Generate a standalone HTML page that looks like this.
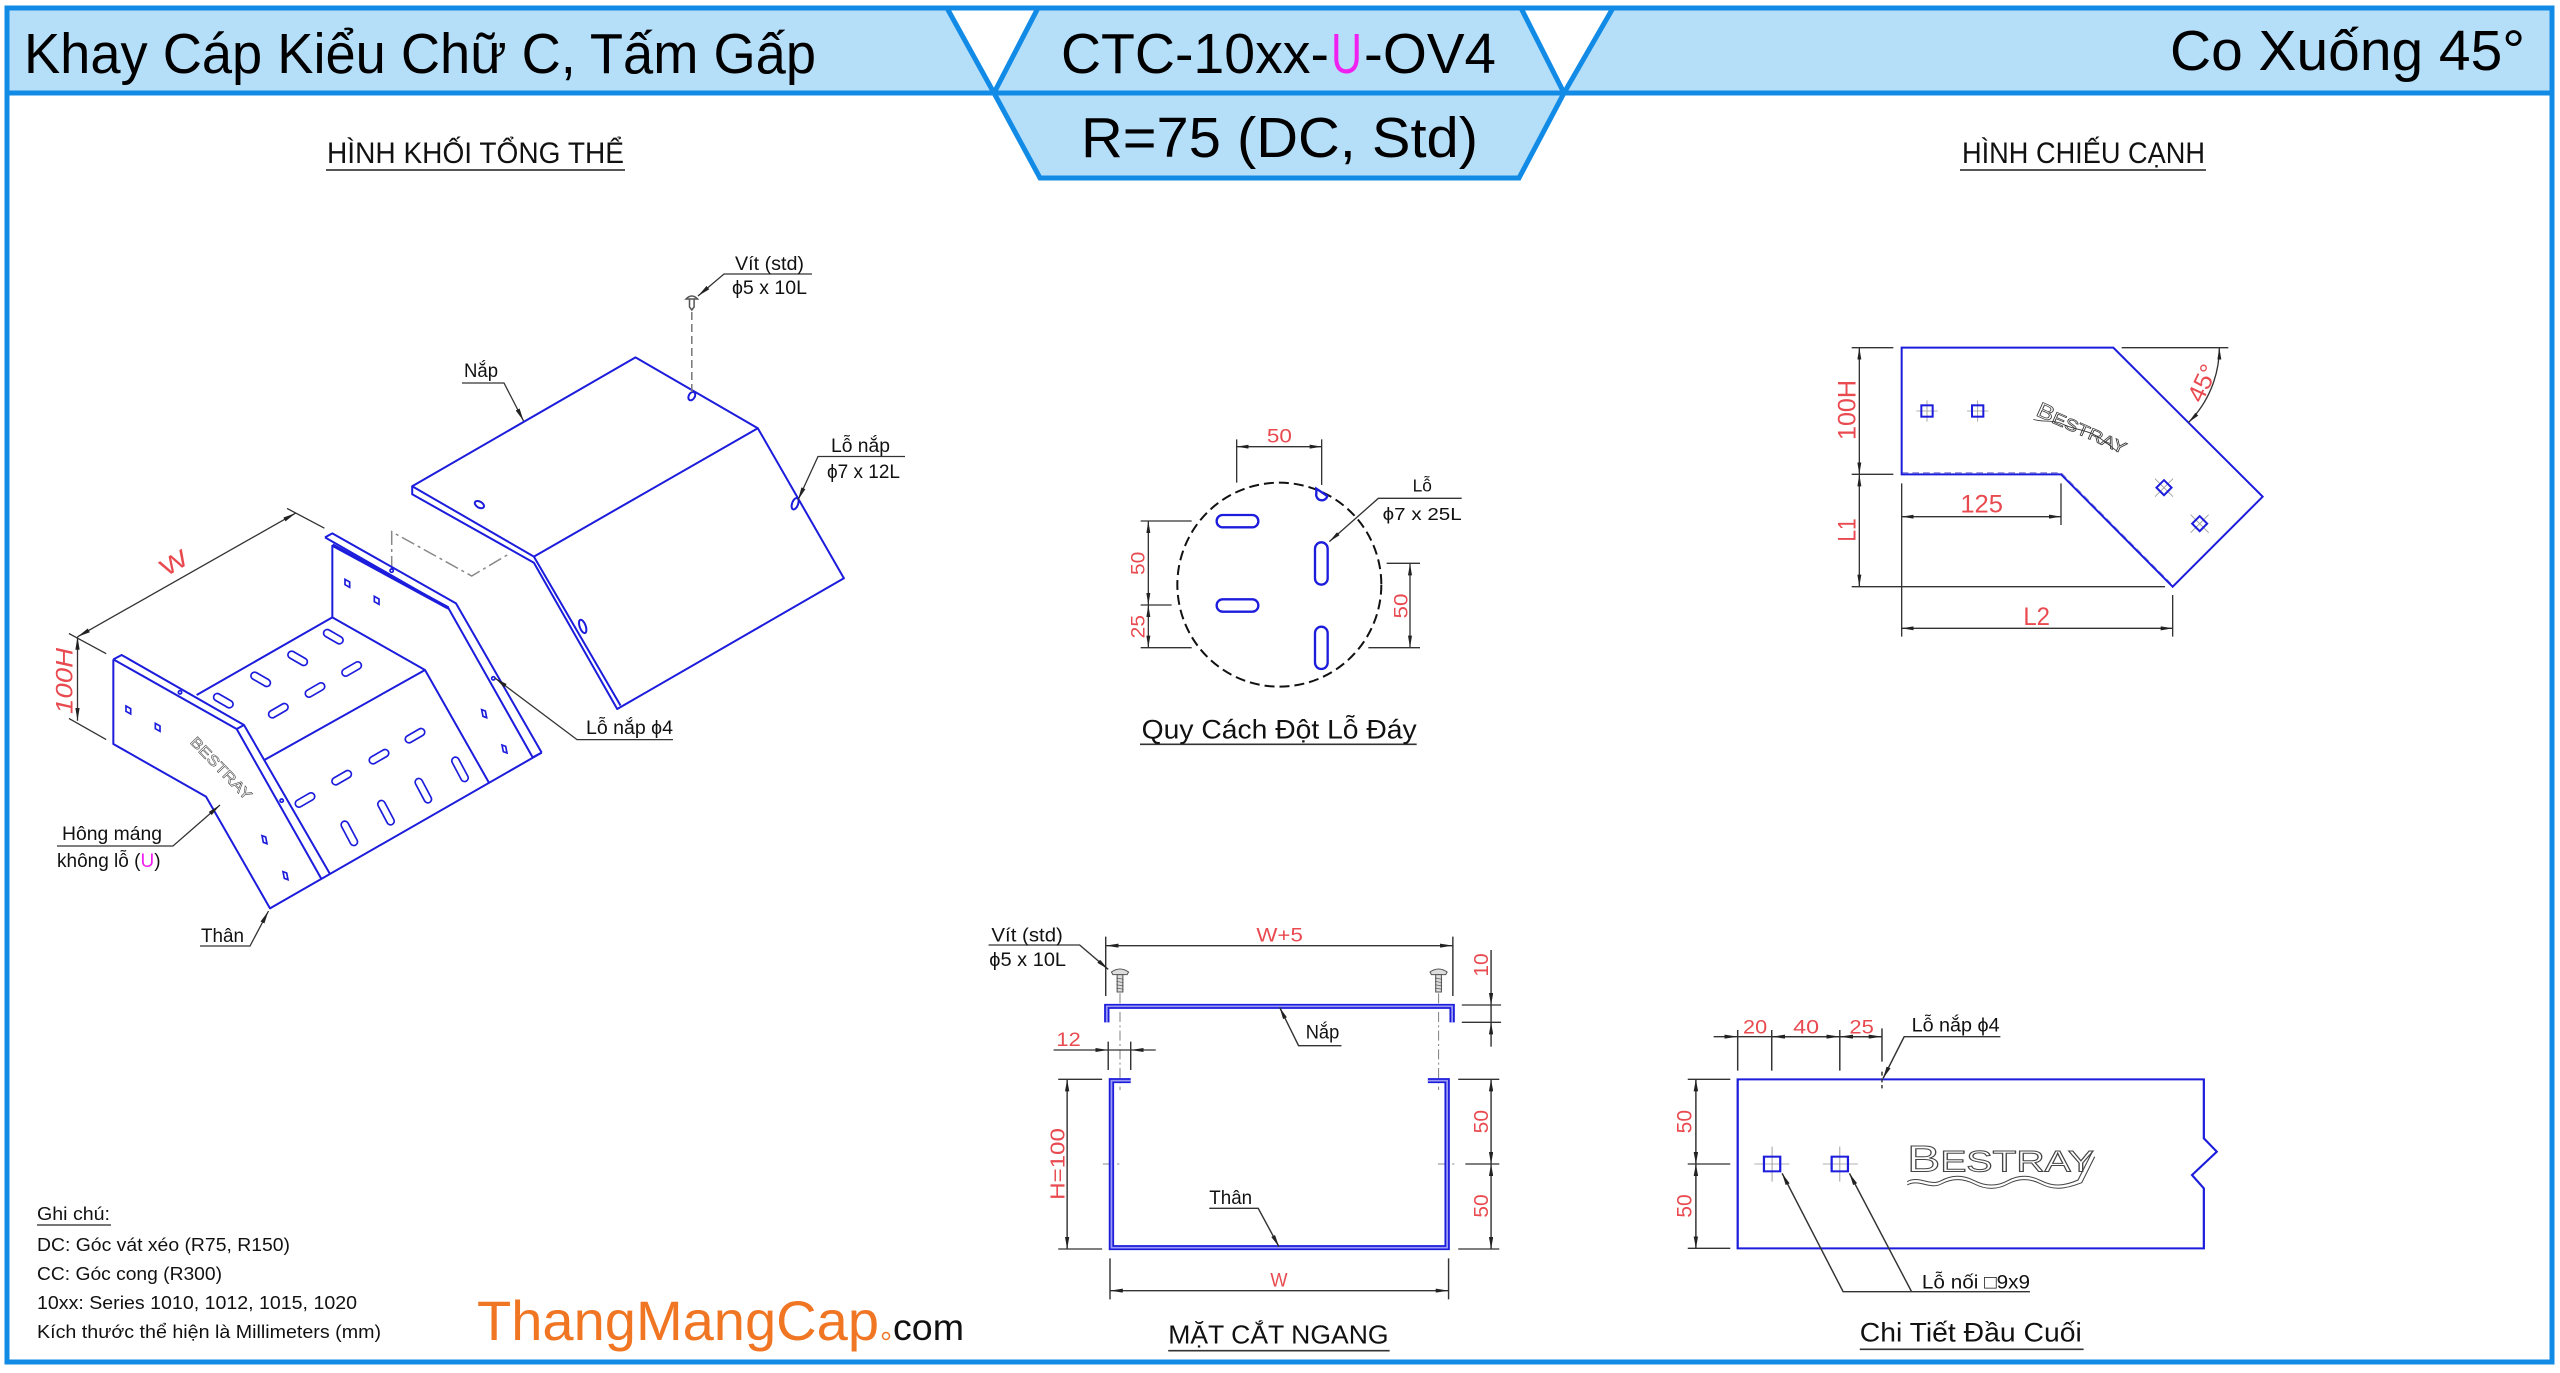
<!DOCTYPE html>
<html><head><meta charset="utf-8"><style>
html,body{margin:0;padding:0;background:#fff;}
svg{display:block;}
text{font-family:"Liberation Sans","DejaVu Sans",sans-serif;}
</style></head><body>
<svg width="2560" height="1373" viewBox="0 0 2560 1373" xmlns="http://www.w3.org/2000/svg">
<defs>
<marker id="a1" viewBox="0 0 12 4" refX="12" refY="2" markerWidth="13" markerHeight="4.4" markerUnits="userSpaceOnUse" orient="auto-start-reverse"><path d="M0,0 L12,2 L0,4 z" fill="#222"/></marker>
<marker id="a3" viewBox="0 0 12 4" refX="12" refY="2" markerWidth="36" markerHeight="12" markerUnits="userSpaceOnUse" orient="auto-start-reverse"><path d="M0,0 L12,2 L0,4 z" fill="#222"/></marker>
</defs>
<rect width="2560" height="1373" fill="#fff"/>

<!-- HEADER -->
<g stroke="#128be6" stroke-width="5" fill="#b5def9" stroke-linejoin="miter">
<polygon points="7,8 947,8 994,93 7,93"/>
<polygon points="1038,8 1521,8 1564,93 1519,178 1040,178 994,93"/>
<polygon points="1613,8 2552,8 2552,93 1564,93"/>
<line x1="994" y1="93" x2="1564" y2="93"/>
</g>
<rect x="7" y="8" width="2545" height="1354" fill="none" stroke="#128be6" stroke-width="5"/>
<g font-size="57" fill="#000">
<text x="24" y="73" textLength="792" lengthAdjust="spacingAndGlyphs">Khay Cáp Kiểu Chữ C, Tấm Gấp</text>
<text x="1061" y="73" textLength="268" lengthAdjust="spacingAndGlyphs">CTC-10xx-</text>
<text x="1331" y="73" textLength="31" lengthAdjust="spacingAndGlyphs" fill="#f020f0">U</text>
<text x="1364" y="73" textLength="132" lengthAdjust="spacingAndGlyphs">-OV4</text>
<text x="1081" y="157" textLength="397" lengthAdjust="spacingAndGlyphs">R=75 (DC, Std)</text>
<text x="2170" y="70" textLength="355" lengthAdjust="spacingAndGlyphs">Co Xuống 45°</text>
</g>

<!-- SECTION TITLES -->
<g font-size="30" fill="#111">
<text x="327" y="163" textLength="297" lengthAdjust="spacingAndGlyphs">HÌNH KHỐI TỔNG THỂ</text>
<text x="1962" y="163" textLength="243" lengthAdjust="spacingAndGlyphs">HÌNH CHIẾU CẠNH</text>
</g>
<g stroke="#555" stroke-width="2">
<line x1="326" y1="170" x2="625" y2="170"/>
<line x1="1960" y1="170" x2="2206" y2="170"/>
</g>

<!-- ISOMETRIC: LID (orig coords) -->
<g stroke="#1c1cdc" stroke-width="2" fill="none" stroke-linejoin="round">
<polygon points="412.2,486.2 635.5,357.4 757.8,428.2 533.9,556.6"/>
<path d="M412.2,486.2 L412.2,494.3 L533.9,562.7 L617.2,709 L843.9,578.3 L757.8,428.2"/>
<path d="M533.9,556.6 L620.5,705.5"/>
<ellipse cx="691.8" cy="396.1" rx="3" ry="4.5" transform="rotate(30 691.8 396.1)"/>
<ellipse cx="479.4" cy="504.6" rx="5" ry="3" transform="rotate(30 479.4 504.6)"/>
<ellipse cx="795.1" cy="503.7" rx="3" ry="6" transform="rotate(20 795.1 503.7)"/>
<ellipse cx="582.7" cy="626.4" rx="3" ry="7" transform="rotate(-20 582.7 626.4)"/>
</g>
<g stroke="#555" stroke-width="1.5" fill="none">
<path d="M686,299 Q691.8,293 697.6,299 Z"/>
<path d="M689.5,299 L689.5,307 L691.8,310 L694.1,307 L694.1,299"/>
<path d="M691.8,312 L691.8,392" stroke-dasharray="8 4" stroke="#777"/>
<path d="M391.7,570 L391.7,531.7 L471.7,576 L510,553.3" stroke="#888" stroke-dasharray="14 4 3 4"/>
</g>

<!-- ISOMETRIC: BODY (zoom9 coords) -->
<g transform="translate(100,520) scale(0.333333)">
<g stroke="#1c1cdc" stroke-width="6" fill="none" stroke-linejoin="round">
<path d="M40,418 L40,672 L318,830 L510,1165 L1325,698"/>
<path d="M40,418 L410,627 L665,1078"/>
<path d="M40,418 L65,405 L432,615 L690,1062"/>
<path d="M410,627 L432,615"/>
<path d="M290,525 L697,292 L975,450 L1168,790"/>
<path d="M493,720 L975,450"/>
<path d="M697,292 L697,75"/>
<path d="M675,52 L697,40 L1068,250 L1325,698"/>
<path d="M675,52 L1045,264 L1298,712"/>
<path d="M697,75 L1045,264" stroke-width="10"/>
<path d="M1298,712 L1325,698"/>
</g>
<g stroke="#1c1cdc" stroke-width="5" fill="none">
<g transform="translate(370,542) rotate(30)"><rect x="-32" y="-11" width="64" height="22" rx="11"/></g>
<g transform="translate(482,478) rotate(30)"><rect x="-32" y="-11" width="64" height="22" rx="11"/></g>
<g transform="translate(593,415) rotate(30)"><rect x="-32" y="-11" width="64" height="22" rx="11"/></g>
<g transform="translate(700,350) rotate(30)"><rect x="-32" y="-11" width="64" height="22" rx="11"/></g>
<g transform="translate(535,572) rotate(-30)"><rect x="-32" y="-11" width="64" height="22" rx="11"/></g>
<g transform="translate(645,510) rotate(-30)"><rect x="-32" y="-11" width="64" height="22" rx="11"/></g>
<g transform="translate(755,447) rotate(-30)"><rect x="-32" y="-11" width="64" height="22" rx="11"/></g>
<g transform="translate(615,840) rotate(-30)"><rect x="-32" y="-11" width="64" height="22" rx="11"/></g>
<g transform="translate(725,773) rotate(-30)"><rect x="-32" y="-11" width="64" height="22" rx="11"/></g>
<g transform="translate(837,710) rotate(-30)"><rect x="-32" y="-11" width="64" height="22" rx="11"/></g>
<g transform="translate(945,647) rotate(-30)"><rect x="-32" y="-11" width="64" height="22" rx="11"/></g>
<g transform="translate(748,940) rotate(62)"><rect x="-40" y="-11" width="80" height="22" rx="11"/></g>
<g transform="translate(858,878) rotate(62)"><rect x="-40" y="-11" width="80" height="22" rx="11"/></g>
<g transform="translate(970,812) rotate(62)"><rect x="-40" y="-11" width="80" height="22" rx="11"/></g>
<g transform="translate(1080,748) rotate(62)"><rect x="-40" y="-11" width="80" height="22" rx="11"/></g>
<polygon points="-7,-12 7,-4 7,12 -7,4" transform="translate(85,570)"/>
<polygon points="-7,-12 7,-4 7,12 -7,4" transform="translate(173,622)"/>
<polygon points="-7,-12 7,-4 7,12 -7,4" transform="translate(742,190)"/>
<polygon points="-7,-12 7,-4 7,12 -7,4" transform="translate(830,241)"/>
<polygon points="-7,-13 4,-9 8,11 -3,7" transform="translate(493,960)"/>
<polygon points="-7,-13 4,-9 8,11 -3,7" transform="translate(556,1068)"/>
<polygon points="-7,-13 4,-9 8,11 -3,7" transform="translate(1152,582)"/>
<polygon points="-7,-13 4,-9 8,11 -3,7" transform="translate(1213,688)"/>
<circle cx="240" cy="517" r="5"/>
<circle cx="875" cy="152" r="5"/>
<circle cx="545" cy="842" r="5"/>
<circle cx="1180" cy="475" r="5"/>
</g>
<text transform="translate(268,668) rotate(46)" font-size="44" fill="none" stroke="#444" stroke-width="1.6" textLength="244" lengthAdjust="spacingAndGlyphs">BESTRAY</text>
</g>

<!-- ISOMETRIC DIMENSIONS & LEADERS -->
<g stroke="#333" stroke-width="1.3" fill="none">
<path d="M77.5,636.8 L295.7,513.1" marker-start="url(#a1)" marker-end="url(#a1)"/>
<path d="M68.9,633.5 L106.2,653.7"/>
<path d="M287,508.4 L324.4,528.2"/>
<path d="M77.5,636.8 L77.5,720.8" marker-start="url(#a1)" marker-end="url(#a1)"/>
<path d="M68.9,718.4 L106.2,739.6"/>
<path d="M812,274 L724,274 L698,296" marker-end="url(#a1)"/>
<path d="M462,383 L504,383 L523.6,421" marker-end="url(#a1)"/>
<path d="M905,456.5 L818,456.5 L798,500" marker-end="url(#a1)"/>
<path d="M673,739.6 L577,739.6 L495,678" marker-end="url(#a1)"/>
<path d="M57,846 L173,846 L220,805" marker-end="url(#a1)"/>
<path d="M200,946 L250,946 L268.5,911" marker-end="url(#a1)"/>
</g>
<g fill="#e84a50" font-size="24">
<text transform="translate(178,570) rotate(-30)" text-anchor="middle" textLength="28" lengthAdjust="spacingAndGlyphs">W</text>
<text transform="translate(72.5,681) rotate(-90)" text-anchor="middle" font-style="italic" textLength="66" lengthAdjust="spacingAndGlyphs">100H</text>
</g>
<g fill="#111" font-size="19">
<text x="735" y="270" textLength="69" lengthAdjust="spacingAndGlyphs">Vít (std)</text>
<text x="732" y="294" textLength="75" lengthAdjust="spacingAndGlyphs">ϕ5 x 10L</text>
<text x="464" y="377" textLength="34" lengthAdjust="spacingAndGlyphs">Nắp</text>
<text x="831" y="452" textLength="59" lengthAdjust="spacingAndGlyphs">Lỗ nắp</text>
<text x="827" y="478" textLength="73" lengthAdjust="spacingAndGlyphs">ϕ7 x 12L</text>
<text x="586" y="734" textLength="87" lengthAdjust="spacingAndGlyphs">Lỗ nắp ϕ4</text>
<text x="62" y="840" textLength="100" lengthAdjust="spacingAndGlyphs">Hông máng</text>
<text x="57" y="867">không lỗ (<tspan fill="#f020f0">U</tspan>)</text>
<text x="201" y="942" textLength="43" lengthAdjust="spacingAndGlyphs">Thân</text>
</g>

<!-- HOLE PATTERN (zoom4 coords) -->
<g transform="translate(1120,410) scale(0.333333)">
<circle cx="478" cy="524" r="306" fill="none" stroke="#111" stroke-width="6" stroke-dasharray="30 15"/>
<g stroke="#1c1cdc" stroke-width="7" fill="none">
<rect x="290" y="315" width="125" height="37" rx="18"/>
<rect x="290" y="568" width="125" height="37" rx="18"/>
<rect x="585" y="397" width="38" height="127" rx="19"/>
<rect x="585" y="650" width="38" height="127" rx="19"/>
<path d="M589,236 L589,250 A16,16 0 0 0 622,258 Z"/>
</g>
<g stroke="#333" stroke-width="4" fill="none">
<path d="M350,88 L350,218 M605,88 L605,225"/>
<path d="M350,110 L605,110" marker-start="url(#a3)" marker-end="url(#a3)"/>
<path d="M62,333 L215,333 M62,585 L155,585 M62,713 L215,713"/>
<path d="M85,333 L85,585" marker-start="url(#a3)" marker-end="url(#a3)"/>
<path d="M85,585 L85,713" marker-start="url(#a3)" marker-end="url(#a3)"/>
<path d="M800,460 L900,460 M745,713 L900,713"/>
<path d="M870,460 L870,713" marker-start="url(#a3)" marker-end="url(#a3)"/>
<path d="M1025,265 L775,265 L628,395" marker-end="url(#a3)"/>
<path d="M60,1003 L890,1003" stroke-width="5"/>
</g>
<g fill="#e84a50" font-size="58">
<text x="478" y="98" text-anchor="middle" textLength="75" lengthAdjust="spacingAndGlyphs">50</text>
<text transform="translate(74,460) rotate(-90)" text-anchor="middle" textLength="70" lengthAdjust="spacingAndGlyphs">50</text>
<text transform="translate(74,650) rotate(-90)" text-anchor="middle" textLength="70" lengthAdjust="spacingAndGlyphs">25</text>
<text transform="translate(862,588) rotate(-90)" text-anchor="middle" textLength="75" lengthAdjust="spacingAndGlyphs">50</text>
</g>
<g fill="#111">
<text x="878" y="245" font-size="52">Lỗ</text>
<text x="788" y="330" font-size="52" textLength="237" lengthAdjust="spacingAndGlyphs">ϕ7 x 25L</text>
<text x="65" y="985" font-size="80" textLength="825" lengthAdjust="spacingAndGlyphs">Quy Cách Đột Lỗ Đáy</text>
</g>
</g>

<!-- SIDE VIEW (zoom5 coords) -->
<g transform="translate(1800,320) scale(0.333333)">
<path d="M305,458 L783,458 L1112,790" fill="none" stroke="#9a9ad8" stroke-width="4" stroke-dasharray="20 12"/>
<path d="M305,83 L940,83 L1388,530 L1118,800 L783,463 L305,463 Z" fill="none" stroke="#1c1cdc" stroke-width="6"/>
<g stroke="#999" stroke-width="2.5">
<path d="M349,273 L413,273 M381,241 L381,305 M501,273 L565,273 M533,241 L533,305"/>
<path d="M1065,476 L1119,530 M1119,476 L1065,530 M1172,584 L1226,638 M1226,584 L1172,638"/>
</g>
<g stroke="#1c1cdc" stroke-width="6" fill="none">
<rect x="364" y="256" width="34" height="34"/>
<rect x="516" y="256" width="34" height="34"/>
<rect x="1076" y="487" width="32" height="32" transform="rotate(45 1092 503)"/>
<rect x="1183" y="595" width="32" height="32" transform="rotate(45 1199 611)"/>
</g>
<text transform="translate(705,285) rotate(24)" font-size="64" fill="none" stroke="#333" stroke-width="2.2" textLength="290" lengthAdjust="spacingAndGlyphs">B<tspan font-size="50">ESTRAY</tspan></text>
<path d="M700,290 C730,300 760,290 790,305 S850,320 880,335 S930,370 950,385" fill="none" stroke="#333" stroke-width="2.5" transform="translate(0,8)"/>
<g stroke="#333" stroke-width="4" fill="none">
<path d="M155,83 L280,83 M155,463 L280,463 M155,800 L1095,800"/>
<path d="M178,83 L178,463" marker-start="url(#a3)" marker-end="url(#a3)"/>
<path d="M178,463 L178,800" marker-start="url(#a3)" marker-end="url(#a3)"/>
<path d="M305,490 L305,950 M783,490 L783,615 M1118,825 L1118,950"/>
<path d="M305,590 L783,590" marker-start="url(#a3)" marker-end="url(#a3)"/>
<path d="M305,925 L1118,925" marker-start="url(#a3)" marker-end="url(#a3)"/>
<path d="M965,83 L1285,83"/>
<path d="M1258,83 A318,318 0 0 1 1165,308" marker-start="url(#a3)" marker-end="url(#a3)"/>
</g>
<g fill="#e84a50" font-size="74">
<text transform="translate(166,270) rotate(-90)" text-anchor="middle" textLength="180" lengthAdjust="spacingAndGlyphs">100H</text>
<text transform="translate(166,630) rotate(-90)" text-anchor="middle" textLength="70" lengthAdjust="spacingAndGlyphs">L1</text>
<text x="545" y="578" text-anchor="middle" textLength="128" lengthAdjust="spacingAndGlyphs">125</text>
<text x="710" y="915" text-anchor="middle" textLength="80" lengthAdjust="spacingAndGlyphs">L2</text>
<text transform="translate(1230,200) rotate(-65)" text-anchor="middle" textLength="115" lengthAdjust="spacingAndGlyphs">45°</text>
</g>
</g>

<!-- CROSS SECTION (zoom6 coords) -->
<g transform="translate(960,910) scale(0.357143,0.333333)">
<g stroke="#888" stroke-width="3" fill="none" stroke-dasharray="30 10 6 10">
<path d="M448,250 L448,540 M1340,250 L1340,540 M400,762 L452,762 M1338,762 L1390,762"/>
</g>
<g fill="#ddd" stroke="#555" stroke-width="3">
<path d="M424,186 Q448,168 472,186 L468,194 L428,194 Z"/>
<rect x="440" y="194" width="16" height="52"/>
<path d="M1316,186 Q1340,168 1364,186 L1360,194 L1320,194 Z"/>
<rect x="1332" y="194" width="16" height="52"/>
</g>
<g stroke="#555" stroke-width="2">
<path d="M438,204 L458,208 M438,214 L458,218 M438,224 L458,228 M438,234 L458,238"/>
<path d="M1330,204 L1350,208 M1330,214 L1350,218 M1330,224 L1350,228 M1330,234 L1350,238"/>
</g>
<path d="M411,337 L411,289 L1378,289 L1378,337" fill="none" stroke="#1c1cdc" stroke-width="15"/>
<path d="M411,337 L411,289 L1378,289 L1378,337" fill="none" stroke="#9a9af2" stroke-width="5"/>
<path d="M478,512 L424,512 L424,1013 L1364,1013 L1364,512 L1310,512" fill="none" stroke="#1c1cdc" stroke-width="15"/>
<path d="M478,512 L424,512 L424,1013 L1364,1013 L1364,512 L1310,512" fill="none" stroke="#9a9af2" stroke-width="5"/>
<g stroke="#333" stroke-width="4" fill="none">
<path d="M408,80 L408,258 M1380,80 L1380,258"/>
<path d="M408,107 L1380,107" marker-start="url(#a3)" marker-end="url(#a3)"/>
<path d="M1405,285 L1515,285 M1405,337 L1515,337 M1487,285 L1487,337"/>
<path d="M1487,120 L1487,285" marker-end="url(#a3)"/>
<path d="M1487,410 L1487,337" marker-end="url(#a3)"/>
<path d="M415,395 L415,480 M478,395 L478,480 M415,420 L478,420"/>
<path d="M262,420 L415,420" marker-end="url(#a3)"/>
<path d="M548,420 L478,420" marker-end="url(#a3)"/>
<path d="M275,508 L398,508 M275,1017 L398,1017"/>
<path d="M300,508 L300,1017" marker-start="url(#a3)" marker-end="url(#a3)"/>
<path d="M1395,508 L1510,508 M1415,762 L1510,762 M1395,1017 L1510,1017"/>
<path d="M1487,508 L1487,762" marker-start="url(#a3)" marker-end="url(#a3)"/>
<path d="M1487,762 L1487,1017" marker-start="url(#a3)" marker-end="url(#a3)"/>
<path d="M420,1045 L420,1168 M1368,1045 L1368,1168"/>
<path d="M420,1142 L1368,1142" marker-start="url(#a3)" marker-end="url(#a3)"/>
<path d="M80,105 L335,105 L415,178" marker-end="url(#a3)"/>
<path d="M1068,407 L948,407 L895,292" marker-end="url(#a3)"/>
<path d="M698,895 L835,895 L893,1010" marker-end="url(#a3)"/>
<path d="M583,1322 L1203,1322" stroke-width="5"/>
</g>
<g fill="#e84a50" font-size="58">
<text x="895" y="95" text-anchor="middle" textLength="130" lengthAdjust="spacingAndGlyphs">W+5</text>
<text transform="translate(1478,165) rotate(-90)" text-anchor="middle" textLength="70" lengthAdjust="spacingAndGlyphs">10</text>
<text x="304" y="408" text-anchor="middle" textLength="68" lengthAdjust="spacingAndGlyphs">12</text>
<text transform="translate(292,762) rotate(-90)" text-anchor="middle" textLength="215" lengthAdjust="spacingAndGlyphs">H=100</text>
<text transform="translate(1478,635) rotate(-90)" text-anchor="middle" textLength="70" lengthAdjust="spacingAndGlyphs">50</text>
<text transform="translate(1478,888) rotate(-90)" text-anchor="middle" textLength="70" lengthAdjust="spacingAndGlyphs">50</text>
<text x="893" y="1130" text-anchor="middle" textLength="48" lengthAdjust="spacingAndGlyphs">W</text>
</g>
<g fill="#111" font-size="57">
<text x="88" y="95" textLength="200" lengthAdjust="spacingAndGlyphs">Vít (std)</text>
<text x="82" y="168" textLength="215" lengthAdjust="spacingAndGlyphs">ϕ5 x 10L</text>
<text x="968" y="385" textLength="94" lengthAdjust="spacingAndGlyphs">Nắp</text>
<text x="698" y="882" textLength="120" lengthAdjust="spacingAndGlyphs">Thân</text>
<text x="583" y="1300" font-size="78" textLength="617" lengthAdjust="spacingAndGlyphs">MẶT CẮT NGANG</text>
</g>
</g>

<!-- END DETAIL (zoom7 coords) -->
<g transform="translate(1660,1000) scale(0.36996,0.333333)">
<path d="M210,238 L1470,238 L1470,415 L1505,455 L1438,525 L1470,565 L1470,745 L210,745 Z" fill="none" stroke="#1c1cdc" stroke-width="6"/>
<g stroke="#999" stroke-width="2.5">
<path d="M255,492 L350,492 M303,440 L303,545 M440,492 L535,492 M486,440 L486,545"/>
</g>
<g stroke="#1c1cdc" stroke-width="6" fill="none">
<rect x="281" y="470" width="44" height="44"/>
<rect x="464" y="470" width="44" height="44"/>
</g>
<text x="668" y="515" font-size="112" fill="none" stroke="#444" stroke-width="3" textLength="505" lengthAdjust="spacingAndGlyphs">B<tspan font-size="88">ESTRAY</tspan></text>
<path d="M668,545 C700,525 730,560 760,542 S820,525 850,542 S910,560 940,542 S1000,525 1030,542 S1090,560 1130,540 L1170,452" fill="none" stroke="#444" stroke-width="3"/>
<path d="M668,555 C700,535 730,570 760,552 S820,535 850,552 S910,570 940,552 S1000,535 1030,552 S1090,570 1140,548 L1175,470" fill="none" stroke="#444" stroke-width="3"/>
<g stroke="#333" stroke-width="4" fill="none">
<path d="M210,90 L210,212 M302,90 L302,212 M486,90 L486,212 M600,85 L600,185"/>
<path d="M210,110 L600,110"/>
<path d="M145,110 L210,110" marker-end="url(#a3)"/>
<path d="M400,110 L302,110" marker-end="url(#a3)"/>
<path d="M400,110 L486,110" marker-end="url(#a3)"/>
<path d="M545,110 L486,110" marker-end="url(#a3)"/>
<path d="M545,110 L600,110" marker-end="url(#a3)"/>
<path d="M600,215 L600,265" stroke-dasharray="12 8"/>
<path d="M920,110 L660,110 L603,235" marker-end="url(#a3)"/>
<path d="M75,238 L190,238 M75,492 L190,492 M75,745 L190,745"/>
<path d="M97,238 L97,492" marker-start="url(#a3)" marker-end="url(#a3)"/>
<path d="M97,492 L97,745" marker-start="url(#a3)" marker-end="url(#a3)"/>
<path d="M1000,875 L495,875 L330,520" marker-end="url(#a3)"/>
<path d="M680,875 L512,520" marker-end="url(#a3)"/>
<path d="M540,1048 L1145,1048" stroke-width="5"/>
</g>
<g fill="#e84a50" font-size="58">
<text x="257" y="100" text-anchor="middle" textLength="65" lengthAdjust="spacingAndGlyphs">20</text>
<text x="395" y="100" text-anchor="middle" textLength="70" lengthAdjust="spacingAndGlyphs">40</text>
<text x="545" y="100" text-anchor="middle" textLength="66" lengthAdjust="spacingAndGlyphs">25</text>
<text transform="translate(85,365) rotate(-90)" text-anchor="middle" textLength="70" lengthAdjust="spacingAndGlyphs">50</text>
<text transform="translate(85,618) rotate(-90)" text-anchor="middle" textLength="70" lengthAdjust="spacingAndGlyphs">50</text>
</g>
<g fill="#111" font-size="57">
<text x="680" y="95" textLength="238" lengthAdjust="spacingAndGlyphs">Lỗ nắp ϕ4</text>
<text x="708" y="865" textLength="292" lengthAdjust="spacingAndGlyphs">Lỗ nối □9x9</text>
<text x="540" y="1025" font-size="80" textLength="600" lengthAdjust="spacingAndGlyphs">Chi Tiết Đầu Cuối</text>
</g>
</g>

<!-- NOTES -->
<g fill="#111" font-size="18">
<text x="37" y="1220" textLength="73" lengthAdjust="spacingAndGlyphs">Ghi chú:</text>
<text x="37" y="1251" textLength="253" lengthAdjust="spacingAndGlyphs">DC: Góc vát xéo (R75, R150)</text>
<text x="37" y="1280" textLength="185" lengthAdjust="spacingAndGlyphs">CC: Góc cong (R300)</text>
<text x="37" y="1309" textLength="320" lengthAdjust="spacingAndGlyphs">10xx: Series 1010, 1012, 1015, 1020</text>
<text x="37" y="1338" textLength="344" lengthAdjust="spacingAndGlyphs">Kích thước thể hiện là Millimeters (mm)</text>
</g>
<line x1="37" y1="1225" x2="111" y2="1225" stroke="#777" stroke-width="2"/>
<text x="477" y="1340" font-size="56" fill="#f07624" textLength="402" lengthAdjust="spacingAndGlyphs">ThangMangCap</text>
<circle cx="886" cy="1336" r="3.5" fill="none" stroke="#f07624" stroke-width="1.5"/>
<text x="893" y="1340" font-size="37" fill="#111" textLength="71" lengthAdjust="spacingAndGlyphs">com</text>
</svg>
</body></html>
